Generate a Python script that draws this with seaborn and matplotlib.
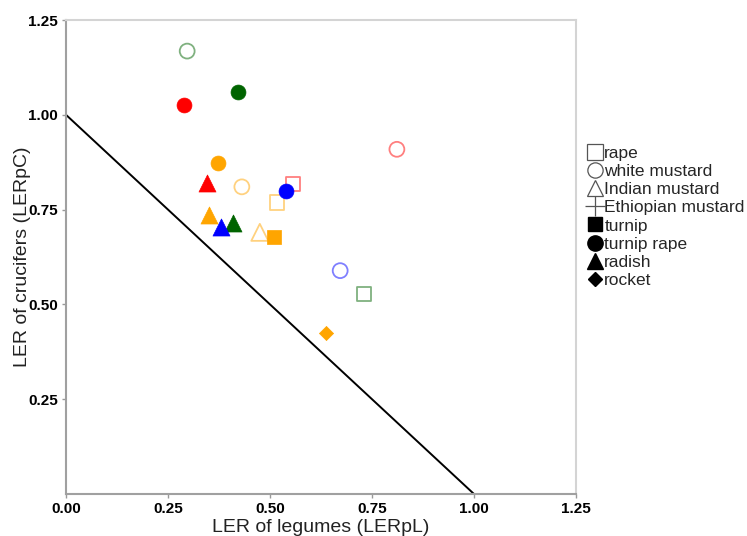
import matplotlib
matplotlib.use("Agg")
import matplotlib.pyplot as plt
from matplotlib.lines import Line2D
import seaborn as sns
import pandas as pd

# ---- data ----
crucifer = ["white mustard", "turnip rape", "turnip rape", "white mustard",
            "Ethiopian mustard", "turnip rape", "radish", "white mustard",
            "rape", "turnip rape", "rape", "radish", "Ethiopian mustard",
            "radish", "radish", "Indian mustard", "turnip", "white mustard",
            "rape", "rocket"]
legume = ["green", "green", "red", "red", "orange", "orange", "red", "orange",
          "red", "blue", "orange", "orange", "green", "green", "blue",
          "orange", "orange", "blue", "green", "orange"]
ler_legume = [0.297, 0.422, 0.289, 0.811, 0.439, 0.372, 0.345, 0.431,
              0.557, 0.538, 0.518, 0.350, 0.549, 0.409, 0.380, 0.475,
              0.509, 0.672, 0.730, 0.637]
ler_crucifer = [1.168, 1.060, 1.026, 0.909, 0.901, 0.872, 0.819, 0.810,
                0.818, 0.800, 0.769, 0.736, 0.718, 0.715, 0.705, 0.690,
                0.677, 0.589, 0.527, 0.425]

legend_order = ["rape", "white mustard", "Indian mustard", "Ethiopian mustard",
                "turnip", "turnip rape", "radish", "rocket"]
line_x = [0.0, 1.0]
line_y = [1.0, 0.0]
x_ticks = [0.00, 0.25, 0.50, 0.75, 1.00, 1.25]
y_ticks = [0.25, 0.50, 0.75, 1.00, 1.25]

# ---- styles ----
palette = {"red": "#ff0000", "orange": "#ffa500", "green": "#006400", "blue": "#0000ff"}
marker_of = {"rape": "s", "white mustard": "o", "Indian mustard": "^",
             "Ethiopian mustard": "+", "turnip": "s", "turnip rape": "o",
             "radish": "^", "rocket": "D"}
open_of = {"rape": True, "white mustard": True, "Indian mustard": True,
           "Ethiopian mustard": True, "turnip": False, "turnip rape": False,
           "radish": False, "rocket": False}
size_of = {"s": 105, "o": 115, "^": 150, "+": 210, "D": 52}

df = pd.DataFrame({"crucifer": crucifer, "legume": legume,
                   "x": ler_legume, "y": ler_crucifer})

sns.set_style("white")
plt.rcParams["font.family"] = ["Liberation Sans", "DejaVu Sans"]

fig = plt.figure(figsize=(7.47, 5.36), dpi=100)
ax = fig.add_axes([66 / 747, 1 - 494 / 536, (576 - 66) / 747, (494 - 20) / 536])

sns.lineplot(x=line_x, y=line_y, color="black", linewidth=1.4, ax=ax)

for (cr, lg), sub in df.groupby(["crucifer", "legume"], sort=False):
    m = marker_of[cr]
    col = palette[lg]
    if open_of[cr]:
        sns.scatterplot(data=sub, x="x", y="y", marker=m, s=size_of[m],
                        color=col, facecolor="none", edgecolor=col,
                        linewidth=1.3, alpha=0.5, ax=ax, zorder=3)
    else:
        sns.scatterplot(data=sub, x="x", y="y", marker=m, s=size_of[m],
                        color=col, edgecolor=col, linewidth=0.5,
                        alpha=1.0, ax=ax, zorder=4)

ax.set_xlim(0, 1.25)
ax.set_ylim(0, 1.25)
ax.set_xticks(x_ticks)
ax.set_yticks(y_ticks)
ax.set_xticklabels([f"{t:.2f}" for t in x_ticks], fontweight="bold", fontsize=11)
ax.set_yticklabels([f"{t:.2f}" for t in y_ticks], fontweight="bold", fontsize=11)
ax.tick_params(axis="both", direction="out", length=3, width=1, color="#999999",
               labelcolor="black", pad=3, bottom=True, left=True)
ax.set_xlabel("LER of legumes (LERpL)", fontsize=14, labelpad=2, color="#222222")
ax.set_ylabel("LER of crucifers (LERpC)", fontsize=14, labelpad=-2, color="#222222")

for side in ["left", "bottom"]:
    ax.spines[side].set_color("#a0a0a0")
    ax.spines[side].set_linewidth(1.5)
for side in ["top", "right"]:
    ax.spines[side].set_color("#d4d4d4")
    ax.spines[side].set_linewidth(1.5)

handles = []
for name in legend_order:
    m = marker_of[name]
    if open_of[name]:
        h = Line2D([], [], linestyle="none", marker=m,
                   markersize={"s": 11, "o": 11, "^": 12, "+": 14}[m],
                   markerfacecolor="none", markeredgecolor="#555555", markeredgewidth=0.9)
    else:
        h = Line2D([], [], linestyle="none", marker=m,
                   markersize={"s": 10, "o": 11, "^": 12, "D": 7.5}[m],
                   markerfacecolor="black", markeredgecolor="black")
    handles.append(h)

fig.legend(handles, legend_order, loc="upper left",
           bbox_to_anchor=(587 / 747, 1 - 146 / 536), frameon=False,
           fontsize=12.5, handlelength=0.9, handletextpad=0.1,
           labelspacing=0.17, borderpad=0, borderaxespad=0)

fig.savefig("out.png", dpi=100)
